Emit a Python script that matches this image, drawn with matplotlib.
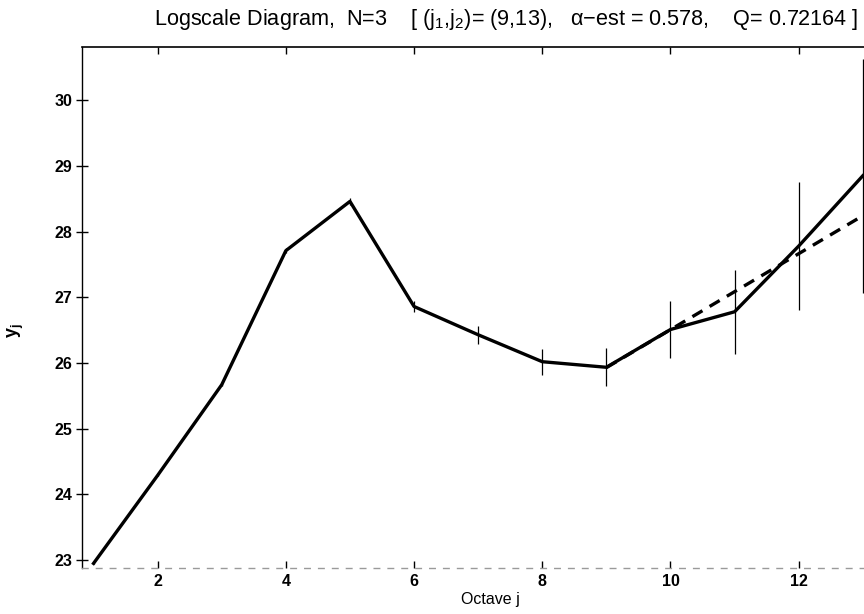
import matplotlib
matplotlib.use("Agg")
import matplotlib.pyplot as plt
import numpy as np

plt.rcParams['font.family'] = ['Liberation Sans', 'DejaVu Sans']
plt.rcParams['mathtext.default'] = 'regular'

# Octaves and log-scale estimates with their confidence half-widths
octaves = [1, 2, 3, 4, 5, 6, 7, 8, 9, 10, 11, 12, 13]
y_j = [22.95, 24.29, 25.67, 27.71, 28.46, 26.86, 26.43, 26.02, 25.935, 26.51, 26.78, 27.78, 28.85]
half_width = [0.01, 0.01, 0.02, 0.04, 0.05, 0.09, 0.14, 0.20, 0.29, 0.43, 0.64, 0.97, 1.78]

# Regression over the selected octave range
j1, j2 = 9, 13
alpha_est = 0.578
fit_intercept = 20.728
Q = 0.72164
N = 3

xticks = [2, 4, 6, 8, 10, 12]
yticks = [23, 24, 25, 26, 27, 28, 29, 30]

fig = plt.figure(figsize=(8.64, 6.14), dpi=100)
ax = fig.add_axes([82 / 864, 1 - 568 / 614, (866 - 82) / 864, (568 - 47) / 614])

ax.errorbar(octaves, y_j, yerr=half_width, color='black', lw=2.4,
            elinewidth=0.9, capsize=0, zorder=3)

jf = np.arange(j1, j2 + 1)
ax.plot(jf, alpha_est * jf + fit_intercept, color='black', lw=2.4,
        dashes=(3.5, 2.5), zorder=2)

ax.set_xlim(0.82, 13.05)
ax.set_ylim(22.88, 30.81)
ax.set_xticks(xticks)
ax.set_yticks(yticks)

for lab in ax.get_xticklabels() + ax.get_yticklabels():
    lab.set_fontweight('bold')
ax.tick_params(axis='x', direction='in', length=5, width=1, top=True,
               labelsize=11.5, pad=4)
ax.tick_params(axis='y', direction='inout', length=8, width=1,
               labelsize=11.5, pad=3)

ax.spines['right'].set_visible(False)
ax.spines['top'].set_linewidth(1.2)
ax.spines['left'].set_linewidth(1.0)
ax.spines['bottom'].set_color('#9a9a9a')
ax.spines['bottom'].set_linestyle((0, (4, 6)))
ax.spines['bottom'].set_linewidth(1.0)

ax.set_xlabel('Octave j', fontsize=11.5)
ax.xaxis.set_label_coords((490 - 82) / (866 - 82), -0.047)
ax.set_ylabel('y$_{j}$', fontsize=13, fontweight='bold', labelpad=0)
ax.yaxis.set_label_coords(-(82 - 26) / (866 - 82), 0.455)

title = ('Logscale Diagram,  N=%d    [ (j$_1$,j$_2$)= (%d,%d),   '
         '\u03b1\u2212est = %.3f,    Q= %.5f ]' % (N, j1, j2, alpha_est, Q))
fig.text(506 / 864, 1 - 20 / 614, title, ha='center', va='center', fontsize=15.6)

fig.savefig('out.png', dpi=100)
